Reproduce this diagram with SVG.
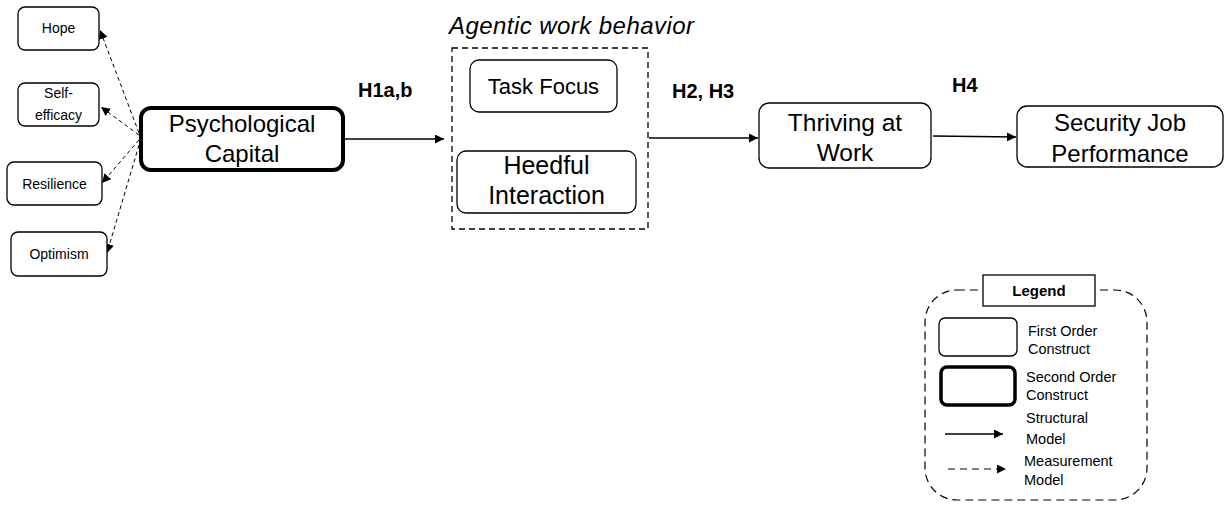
<svg xmlns="http://www.w3.org/2000/svg" width="1227" height="506" viewBox="0 0 1227 506">
  <style>
    .box { fill: #fff; stroke: #000; stroke-width: 1.3; }
    .thick { fill: #fff; stroke: #000; stroke-width: 4; }
    .t { font-family: "Liberation Sans", Arial, sans-serif; fill: #000; text-anchor: middle; }
    .sm { font-size: 14px; }
    .lg { font-size: 24px; }
    .hyp { font-size: 20px; font-weight: bold; text-anchor: start; }
    .leg { font-family: "Liberation Sans", Arial, sans-serif; font-size: 14.5px; fill: #000; }
    .solid { stroke: #000; stroke-width: 1.3; fill: none; }
    .dash { stroke: #000; stroke-width: 1; fill: none; stroke-dasharray: 4 3; }
  </style>
  <defs>
    <marker id="arrow" viewBox="0 0 10 10" refX="10" refY="5" markerWidth="9" markerHeight="9" markerUnits="userSpaceOnUse" orient="auto">
      <path d="M0,0 L10,5 L0,10 z" fill="#000"/>
    </marker>
  </defs>

  <rect width="1227" height="506" fill="#fff"/>

  <!-- connectors -->
  <g id="connectors">
    <line class="dash" x1="139" y1="133" x2="100" y2="30" marker-end="url(#arrow)"/>
    <line class="dash" x1="139" y1="135" x2="101" y2="107" marker-end="url(#arrow)"/>
    <line class="dash" x1="139" y1="140" x2="102" y2="183" marker-end="url(#arrow)"/>
    <line class="dash" x1="139" y1="145" x2="107" y2="253" marker-end="url(#arrow)"/>
    <line class="solid" x1="343" y1="139" x2="444" y2="139" marker-end="url(#arrow)"/>
    <line class="solid" x1="649" y1="138" x2="758" y2="138" marker-end="url(#arrow)"/>
    <line class="solid" x1="933" y1="136" x2="1016" y2="137" marker-end="url(#arrow)"/>
  </g>

  <!-- hypothesis labels -->
  <text class="t hyp" x="358" y="97">H1a,b</text>
  <text class="t hyp" x="672" y="98" font-size="20.5">H2, H3</text>
  <text class="t hyp" x="952" y="92">H4</text>

  <!-- indicators of psychological capital -->
  <g id="hope">
    <rect class="box" x="18" y="7" width="81" height="43" rx="7"/>
    <text class="t sm" x="58.5" y="33">Hope</text>
  </g>
  <g id="self-efficacy">
    <rect class="box" x="18" y="83" width="81" height="43" rx="7"/>
    <text class="t sm" x="58.5" y="98">Self-</text>
    <text class="t sm" x="58.5" y="120">efficacy</text>
  </g>
  <g id="resilience">
    <rect class="box" x="7" y="162" width="95" height="43" rx="7"/>
    <text class="t sm" x="54.5" y="189">Resilience</text>
  </g>
  <g id="optimism">
    <rect class="box" x="11" y="232" width="96" height="44" rx="7"/>
    <text class="t sm" x="59" y="259">Optimism</text>
  </g>

  <g id="psychological-capital">
    <rect class="thick" x="141" y="108" width="202" height="62" rx="10"/>
    <text class="t lg" x="242" y="132">Psychological</text>
    <text class="t lg" x="242" y="162">Capital</text>
  </g>

  <g id="agentic-work-behavior">
    <text x="449" y="34" font-family="Liberation Sans, Arial, sans-serif" font-size="24" font-style="italic" textLength="245">Agentic work behavior</text>
    <rect x="452" y="48" width="196" height="181" fill="none" stroke="#000" stroke-width="1.3" stroke-dasharray="6 4"/>
  </g>
  <g id="task-focus">
    <rect class="box" x="470" y="60" width="147" height="52" rx="9"/>
    <text class="t" x="543.5" y="94" font-size="22">Task Focus</text>
  </g>
  <g id="heedful-interaction">
    <rect class="box" x="457" y="151" width="179" height="62" rx="9"/>
    <text class="t" x="546.5" y="174" font-size="25">Heedful</text>
    <text class="t" x="546.5" y="204" font-size="25">Interaction</text>
  </g>

  <g id="thriving-at-work">
    <rect class="box" x="759" y="103" width="172" height="65" rx="10"/>
    <text class="t" x="845" y="131" font-size="24.5">Thriving at</text>
    <text class="t" x="845" y="161" font-size="24.5">Work</text>
  </g>

  <g id="security-job-performance">
    <rect class="box" x="1017" y="106" width="206" height="61" rx="10"/>
    <text class="t" x="1120" y="131" font-size="24">Security Job</text>
    <text class="t" x="1120" y="162" font-size="24">Performance</text>
  </g>

  <!-- legend -->
  <g id="legend">
    <rect x="925" y="290" width="222" height="210" rx="32" fill="none" stroke="#000" stroke-width="1.2" stroke-dasharray="8 5"/>
    <rect x="983" y="275" width="112" height="31" fill="#fff" stroke="#000" stroke-width="1.3"/>
    <text class="t" x="1039" y="296" font-size="15" font-weight="bold">Legend</text>
    <rect class="box" x="939" y="318" width="78" height="38" rx="6"/>
    <text class="leg" x="1028" y="336">First Order</text>
    <text class="leg" x="1028" y="354">Construct</text>
    <rect x="941" y="367" width="74" height="38" rx="6" fill="#fff" stroke="#000" stroke-width="3.5"/>
    <text class="leg" x="1026" y="382">Second Order</text>
    <text class="leg" x="1026" y="400">Construct</text>
    <line class="solid" x1="945" y1="434" x2="1003" y2="434" marker-end="url(#arrow)"/>
    <text class="leg" x="1026" y="423">Structural</text>
    <text class="leg" x="1026" y="444">Model</text>
    <line x1="948" y1="469" x2="1006" y2="469" stroke="#000" stroke-width="1.2" stroke-dasharray="7 5" marker-end="url(#arrow)"/>
    <text class="leg" x="1024" y="466">Measurement</text>
    <text class="leg" x="1024" y="485">Model</text>
  </g>
</svg>
